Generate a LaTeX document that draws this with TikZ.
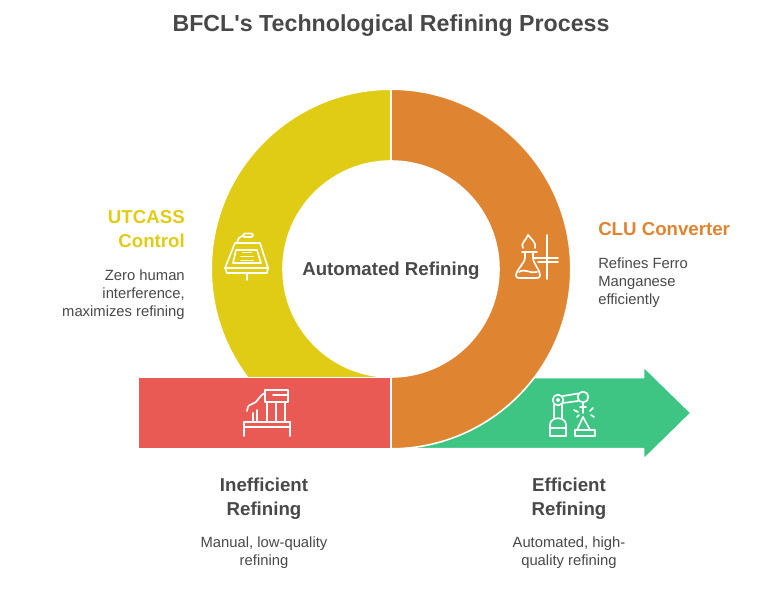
\documentclass[tikz,border=0pt]{standalone}
\usepackage{fontspec}
\setmainfont{Liberation Sans}[Ligatures=TeXOff]
\definecolor{ringyellow}{HTML}{E0CB15}
\definecolor{ringorange}{HTML}{DF8431}
\definecolor{barred}{HTML}{E85A53}
\definecolor{bargreen}{HTML}{3FC583}
\definecolor{inktext}{HTML}{484848}
\tikzset{
  titletext/.style={font=\bfseries\fontsize{17.4}{22}\selectfont,text=inktext,inner sep=0pt},
  headtext/.style={font=\bfseries\fontsize{14}{18}\selectfont,text=inktext,inner sep=0pt},
  bodytext/.style={font=\fontsize{11.1}{13.6}\selectfont,text=inktext,inner sep=0pt},
  segment/.style={draw=white,line width=1.2pt,line join=round},
  iconline/.style={draw=white,line width=1.25pt,line cap=round,line join=round}
}
\begin{document}
\begin{tikzpicture}[x=0.75pt,y=-0.75pt]
      \useasboundingbox (0,0) rectangle (768,613);

      % ring and bar
      \fill[segment,fill=ringyellow] (391,89.2) arc (-90:-270:179.8) -- (391,377) arc (-270:-90:108) -- cycle;
      \fill[segment,fill=bargreen] (391,377.6) -- (643.5,377.6) -- (643.5,366.5) -- (691,413) -- (643.5,459.5) -- (643.5,448.6) -- (391,448.6) -- cycle;
      \fill[segment,fill=barred] (138.4,377.6) rectangle (391,448.6);
      \fill[segment,fill=ringorange] (391,89.2) arc (-90:90:179.8) -- (391,377) arc (90:-90:108) -- cycle;

      % podium
      \draw[iconline] (235,243) -- (260,243) -- (268,268) -- (225,268) -- cycle;
      \draw[iconline] (225,268) -- (227,273) -- (267,273) -- (268,268);
      \draw[iconline] (247,273) -- (247,280);
      \draw[iconline] (236,250) -- (257,250) -- (261,263) -- (233,263) -- cycle;
      \draw[iconline] (243,252.5) -- (251,252.5);
      \draw[iconline] (241,256.5) -- (253,256.5);
      \draw[iconline] (241,260.5) -- (253,260.5);
      \draw[iconline] (237,243) .. controls (238,238) and (240,236) .. (244,236);
      \draw[iconline,rounded corners=1.5pt] (243,233.5) rectangle (253,237);

      % flask
      \draw[iconline] (523,248) .. controls (520,243) and (526,241) .. (528,235) .. controls (531,239) and (537,243) .. (535,248);
      \draw[iconline] (522,252) -- (537,252);
      \draw[iconline,rounded corners=2pt] (525,252) -- (525,260) -- (516,273) -- (516,278) -- (540,278) -- (540,273) -- (533,260) -- (533,252);
      \draw[iconline] (519,272) .. controls (525,268) and (530,274) .. (537,272);
      \draw[iconline] (547,235) -- (547,279);
      \draw[iconline] (533,258) -- (558,258);
      \draw[iconline] (538,262) -- (558,262);

      % furnace
      \draw[iconline] (244,422) -- (290,422);
      \draw[iconline] (244,427) -- (290,427);
      \draw[iconline] (244,422) -- (244,436);
      \draw[iconline] (290,422) -- (290,436);
      \draw[iconline] (265,390) rectangle (288,402);
      \draw[iconline] (273,395) -- (287,395);
      \draw[iconline] (267,402) -- (267,422);
      \draw[iconline] (276,402) -- (276,422);
      \draw[iconline] (285,402) -- (285,422);
      \draw[iconline] (265,393) .. controls (258,396) and (258,403) .. (252,404) .. controls (248,405) and (247,408) .. (247,411);
      \draw[iconline] (253,422) -- (253,413);
      \draw[iconline] (257,422) -- (257,410);

      % robot arm
      \draw[iconline] (550,436) -- (566,436) -- (566,425) .. controls (566,416) and (550,416) .. (550,425) -- cycle;
      \draw[iconline] (550,428) -- (566,428);
      \draw[iconline] (554,405) -- (554,418);
      \draw[iconline] (562,405) -- (562,418);
      \draw[iconline] (558,400) circle (5.4);
      \draw[iconline] (558,400) circle (1.2);
      \draw[iconline] (583,397) circle (5.4);
      \draw[iconline] (563,396) -- (578,393.5);
      \draw[iconline] (563,403) -- (578,401);
      \draw[iconline] (583,402) -- (583,413);
      \draw[iconline] (580,407) -- (586,407);
      \draw[iconline] (575,430) -- (595,430) -- (595,436) -- (575,436) -- cycle;
      \draw[iconline] (577,430) -- (583,417) -- (590,430);
      \draw[iconline] (574,410) -- (578,412);
      \draw[iconline] (590,411) -- (593,408);
      \draw[iconline] (591,415) -- (594,417);
      \draw[iconline] (577,417) -- (579,415);

      \node[titletext] (title) at (391,26) {BFCL's Technological Refining Process};
      \node[headtext] (center) at (391,271) {Automated Refining};

      \node[headtext,text=ringyellow,align=right,anchor=east] (utcass) at (185,229) {UTCASS\\Control};
      \node[bodytext,align=right,anchor=east] (utcassnote) at (185,294.5) {Zero human\\interference,\\maximizes refining};

      \node[headtext,text=ringorange,anchor=west] (clu) at (598,229) {CLU Converter};
      \node[bodytext,align=left,anchor=west] (clunote) at (598,283) {Refines Ferro\\Manganese\\efficiently};

      \node[headtext,align=center] (ineff) at (264,499) {Inefficient\\Refining};
      \node[bodytext,align=center] (ineffnote) at (264,553) {Manual, low-quality\\refining};

      \node[headtext,align=center] (eff) at (569,499) {Efficient\\Refining};
      \node[bodytext,align=center] (effnote) at (569,553) {Automated, high-\\quality refining};

    \end{tikzpicture}
\end{document}
